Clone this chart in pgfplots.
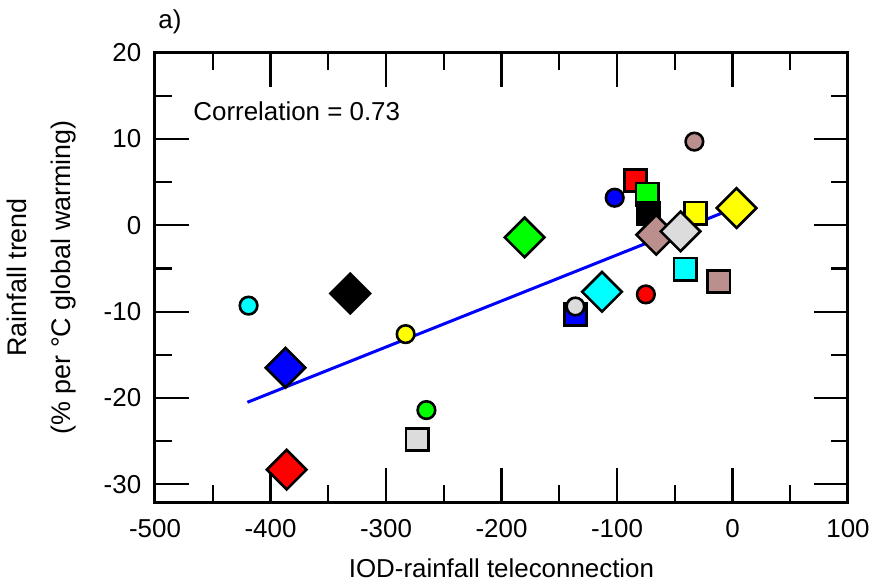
\documentclass[border=0pt]{standalone}
\usepackage{fontspec}
\setmainfont{Liberation Sans}
\usepackage{pgfplots}
\usepackage{pgfplotstable}
\pgfplotsset{compat=1.18}

\definecolor{rosy}{RGB}{188,143,143}
\definecolor{ltgray}{RGB}{220,220,220}
\definecolor{pred}{RGB}{255,0,0}
\definecolor{pgreen}{RGB}{0,255,0}
\definecolor{pblue}{RGB}{0,0,255}
\definecolor{pcyan}{RGB}{0,255,255}
\definecolor{pyellow}{RGB}{255,255,0}

\pgfdeclareplotmark{sqdiamond}{%
  \pgfpathmoveto{\pgfqpoint{0pt}{\pgfplotmarksize}}%
  \pgfpathlineto{\pgfqpoint{\pgfplotmarksize}{0pt}}%
  \pgfpathlineto{\pgfqpoint{0pt}{-\pgfplotmarksize}}%
  \pgfpathlineto{\pgfqpoint{-\pgfplotmarksize}{0pt}}%
  \pgfpathclose
  \pgfusepathqfillstroke}

% squares, drawn first
\pgfplotstableread{
x y c
-84 5.2 r
-74 3.6 g
-73 1.4 k
-32 1.4 y
-41 -5.1 c
-12 -6.5 br
-136 -10.3 b
-273 -24.8 gr
}\squares

\pgfplotstableread{
x y c
-33 9.7 br
-102 3.2 b
-75 -8.0 r
-136 -9.4 gr
-419 -9.3 c
-283 -12.6 y
-265 -21.4 g
}\circles

\pgfplotstableread{
x y c
3.5 2.0 y
-66 -1.1 br
-45 -0.7 gr
-180 -1.4 g
-113 -7.7 c
-331 -7.9 k
-387 -16.5 b
-386 -28.3 r
}\diamonds

\tikzset{mk/.style={draw=black, line width=2.6bp, fill=#1}}
\pgfplotsset{
  pts/.style={black, only marks, scatter, point meta=explicit symbolic,
    scatter/classes={
      r={mk=pred}, g={mk=pgreen}, b={mk=pblue}, c={mk=pcyan},
      y={mk=pyellow}, k={mk=black}, br={mk=rosy}, gr={mk=ltgray}}},
}

\newcommand{\bigf}{\fontsize{26}{30}\selectfont}

\begin{document}
\begin{tikzpicture}
\begin{axis}[
    scale only axis,
    width=693bp, height=449.3bp,
    xmin=-500, xmax=100,
    ymin=-32.05, ymax=20,
    line width=3bp,
    xtick={-500,-400,...,100},
    ytick={-30,-20,...,20},
    minor x tick num=1, minor y tick num=1,
    tick align=inside,
    major tick length=34bp, minor tick length=17bp,
    tick style={black, line width=2.3bp},
    tick label style={font=\bigf},
    /pgf/number format/assume math mode=true,
    xticklabel style={yshift=-13bp},
    yticklabel style={xshift=-9bp},
    xlabel={IOD-rainfall teleconnection},
    xlabel style={font=\bigf, at={(axis description cs:0.5,0)}, anchor=base, yshift=-75bp},
    ylabel={Rainfall trend\\(\% per °C global warming)},
    ylabel style={font=\fontsize{27}{45}\selectfont, align=center, inner sep=0pt,
        at={(axis description cs:-0.111,0.5)}, anchor=south},
    axis on top,
    clip=false,
]

\addplot[pts, mark=square*, mark size=11.2bp] table[x=x, y=y, meta=c] {\squares};
\addplot[pts, mark=*, mark size=8.8bp] table[x=x, y=y, meta=c] {\circles};
\addplot[pts, mark=sqdiamond, mark size=19.8bp] table[x=x, y=y, meta=c] {\diamonds};

% regression line
\addplot[pblue, line width=3bp, no marks] coordinates {(-420,-20.5) (3.6,2.1)};

\node[anchor=base west, inner sep=0pt, font=\bigf] at (axis cs:-468,12.2) {Correlation = 0.73};
\node[anchor=base west, inner sep=0pt, font=\bigf] at ([xshift=2bp, yshift=24bp]axis description cs:0,1) {a)};

\end{axis}
\pgfresetboundingbox
\useasboundingbox (-155bp,-80bp) rectangle (719bp,502bp);
\end{tikzpicture}
\end{document}
